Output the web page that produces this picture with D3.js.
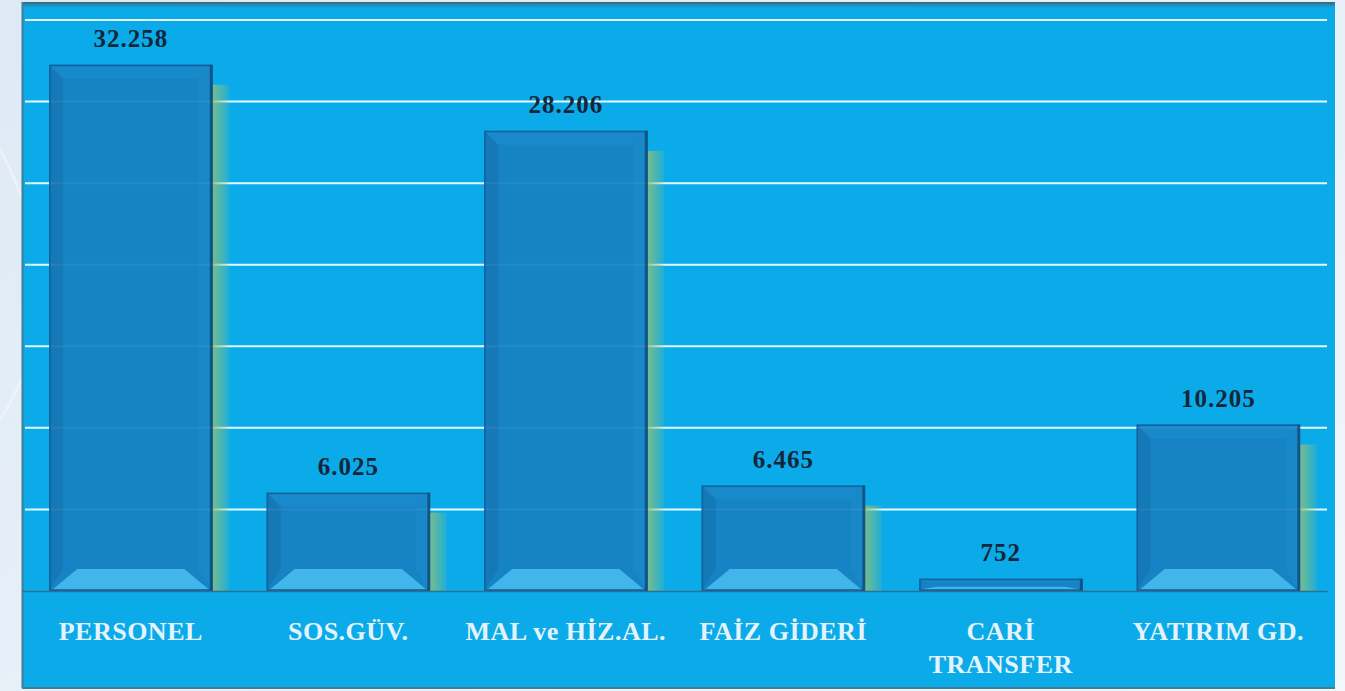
<!DOCTYPE html>
<html>
<head>
<meta charset="utf-8">
<title>Giderler</title>
<style>
  html, body { margin: 0; padding: 0; background: #eaf2f9; }
  svg { display: block; }
</style>
</head>
<body>
<svg id="chart"></svg>
<script src="https://d3js.org/d3.v7.min.js"></script>
<script>
// veriler
const categories = ["PERSONEL", "SOS.GÜV.", "MAL ve HİZ.AL.", "FAİZ GİDERİ", "CARİ\nTRANSFER", "YATIRIM GD."];
const values = [32258, 6025, 28206, 6465, 752, 10205];
const valueLabels = ["32.258", "6.025", "28.206", "6.465", "752", "10.205"];
const gridTicks = [5000, 10000, 15000, 20000, 25000, 30000, 35000];

const W = 1345, H = 691;
const panel = {left: 22, top: 2, right: 1335, bottom: 688};
const plot = {left: 22, right: 1327, top: 20, bottom: 591};

const svg = d3.select("#chart")
    .attr("width", W)
    .attr("height", H);

const defs = svg.append("defs");

// arka plan
const bg = defs.append("linearGradient").attr("id", "bg")
    .attr("x1", 0).attr("y1", 0).attr("x2", 1).attr("y2", 1);
bg.append("stop").attr("offset", 0).attr("stop-color", "#dde9f5");
bg.append("stop").attr("offset", 1).attr("stop-color", "#f2f7fb");

const shadow = defs.append("linearGradient").attr("id", "shadow")
    .attr("x1", 0).attr("y1", 0).attr("x2", 1).attr("y2", 0);
shadow.append("stop").attr("offset", 0).attr("stop-color", "#8cbf7a").attr("stop-opacity", 0.85);
shadow.append("stop").attr("offset", 1).attr("stop-color", "#8cbf7a").attr("stop-opacity", 0.15);

const topEdge = defs.append("linearGradient").attr("id", "topEdge")
    .attr("x1", 0).attr("y1", 0).attr("x2", 0).attr("y2", 1);
topEdge.append("stop").attr("offset", 0).attr("stop-color", "#3d5f70");
topEdge.append("stop").attr("offset", 1).attr("stop-color", "#0aaae8").attr("stop-opacity", 0);

const glow = defs.append("filter").attr("id", "glow")
    .attr("x", "-5%").attr("y", "-200%").attr("width", "110%").attr("height", "500%");
glow.append("feGaussianBlur").attr("stdDeviation", 1.2);

svg.append("rect").attr("width", W).attr("height", H).attr("fill", "url(#bg)");

// swoosh
svg.append("path")
    .attr("d", "M0,420 C60,330 40,220 0,150")
    .attr("fill", "none").attr("stroke", "#ffffff").attr("stroke-opacity", 0.35).attr("stroke-width", 3);

svg.append("rect")
    .attr("x", panel.left).attr("y", panel.top)
    .attr("width", panel.right - panel.left).attr("height", panel.bottom - panel.top)
    .attr("fill", "#0babe9");
svg.append("rect")
    .attr("x", panel.left).attr("y", panel.top)
    .attr("width", panel.right - panel.left).attr("height", 8)
    .attr("fill", "url(#topEdge)");
svg.append("line")
    .attr("x1", panel.left + 0.5).attr("x2", panel.left + 0.5)
    .attr("y1", panel.top).attr("y2", panel.bottom)
    .attr("stroke", "#3f7d98").attr("stroke-width", 2);
svg.append("line")
    .attr("x1", panel.left).attr("x2", panel.right)
    .attr("y1", panel.bottom).attr("y2", panel.bottom)
    .attr("stroke", "#3f7d98").attr("stroke-width", 2);

// ölçekler
const x = d3.scaleBand()
    .domain(categories)
    .range([plot.left, plot.right])
    .paddingInner(0.25)
    .paddingOuter(0.125);

const y = d3.scaleLinear()
    .domain([0, 35000])
    .range([plot.bottom, plot.top]);

// kılavuz çizgileri
const grid = svg.append("g");
grid.selectAll("line.glow")
    .data(gridTicks).enter().append("line")
    .attr("x1", plot.left + 3).attr("x2", plot.right)
    .attr("y1", d => y(d)).attr("y2", d => y(d))
    .attr("stroke", "#7fe6ff").attr("stroke-width", 5)
    .attr("filter", "url(#glow)");
grid.selectAll("line.core")
    .data(gridTicks).enter().append("line")
    .attr("x1", plot.left + 3).attr("x2", plot.right)
    .attr("y1", d => y(d)).attr("y2", d => y(d))
    .attr("stroke", "#e6fbff").attr("stroke-width", 2);

const data = categories.map((c, i) => ({cat: c, v: values[i], label: valueLabels[i]}));

// çubuk gölgeleri
svg.append("g").selectAll("rect")
    .data(data).enter().append("rect")
    .attr("x", d => x(d.cat) + x.bandwidth())
    .attr("y", d => Math.min(y(d.v) + 20, y(0)))
    .attr("width", 17)
    .attr("height", d => Math.max(0, y(0) - y(d.v) - 20))
    .attr("fill", "url(#shadow)");

// çubuklar
const bars = svg.append("g").selectAll("g")
    .data(data).enter().append("g")
    .attr("opacity", 0.93);

bars.each(function(d) {
    const g = d3.select(this);
    const x0 = x(d.cat), x1 = x0 + x.bandwidth();
    const y0 = y(d.v), y1 = y(0);
    const h = y1 - y0;
    const bs = Math.min(14, h * 0.25), bb = Math.min(22, h * 0.35);
    g.append("rect")
        .attr("x", x0).attr("y", y0).attr("width", x1 - x0).attr("height", h)
        .attr("fill", "#1781c3");
    // üst kenar
    g.append("path")
        .attr("d", `M${x0},${y0}L${x1},${y0}L${x1 - bs},${y0 + bs}L${x0 + bs},${y0 + bs}Z`)
        .attr("fill", "#1a88c9");
    // sol kenar
    g.append("path")
        .attr("d", `M${x0},${y0}L${x0 + bs},${y0 + bs}L${x0 + bs},${y1 - bb}L${x0},${y1}Z`)
        .attr("fill", "#1676b5");
    // sağ kenar
    g.append("path")
        .attr("d", `M${x1},${y0}L${x1 - bs},${y0 + bs}L${x1 - bs},${y1 - bb}L${x1},${y1}Z`)
        .attr("fill", "#1b86c6");
    // alt kenar
    g.append("path")
        .attr("d", `M${x0 + 4},${y1 - 2}L${x0 + bs + 14},${y1 - bb}L${x1 - bs - 14},${y1 - bb}L${x1 - 4},${y1 - 2}Z`)
        .attr("fill", "#47b6ec");
    g.append("rect")
        .attr("x", x0 + 0.75).attr("y", y0 + 0.75)
        .attr("width", x1 - x0 - 1.5).attr("height", Math.max(0, h - 1.5))
        .attr("fill", "none").attr("stroke", "#115e99").attr("stroke-width", 1.5);
    g.append("line")
        .attr("x1", x1 - 1).attr("x2", x1 - 1).attr("y1", y0).attr("y2", y1)
        .attr("stroke", "#0f4f80").attr("stroke-width", 3);
});

// taban çizgisi
svg.append("g")
    .attr("transform", `translate(0,${plot.bottom})`)
    .call(d3.axisBottom(x).tickSize(0).tickFormat(""))
    .call(g => g.select(".domain").attr("stroke", "#2f6f90").attr("stroke-width", 1.5));

// değer etiketleri
svg.append("g").selectAll("text")
    .data(data).enter().append("text")
    .attr("x", d => x(d.cat) + x.bandwidth() / 2)
    .attr("y", d => y(d.v) - 18)
    .attr("text-anchor", "middle")
    .attr("font-family", "'Liberation Serif', 'DejaVu Serif', serif")
    .attr("font-weight", "bold")
    .attr("font-size", 25)
    .attr("letter-spacing", 1)
    .attr("fill", "#14273a")
    .text(d => d.label);

// kategori etiketleri
const cats = svg.append("g").selectAll("text")
    .data(data).enter().append("text")
    .attr("x", d => x(d.cat) + x.bandwidth() / 2)
    .attr("y", 640)
    .attr("text-anchor", "middle")
    .attr("font-family", "'Liberation Serif', 'DejaVu Serif', serif")
    .attr("font-weight", "bold")
    .attr("font-size", 26)
    .attr("letter-spacing", 0.5)
    .attr("fill", "#e4f3fb");
cats.selectAll("tspan")
    .data(d => d.cat.split("\n")).enter().append("tspan")
    .attr("x", function() { return d3.select(this.parentNode).attr("x"); })
    .attr("dy", (d, i) => i ? 33 : 0)
    .text(d => d);
</script>
</body>
</html>
